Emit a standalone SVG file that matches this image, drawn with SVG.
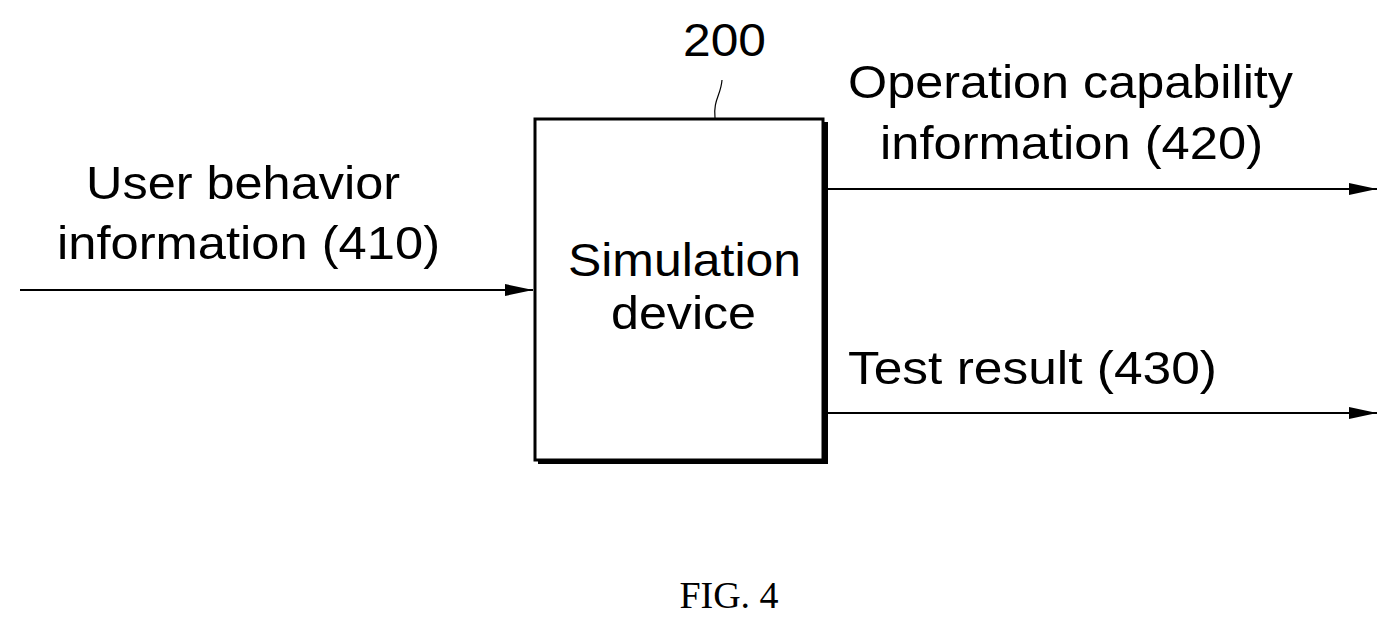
<svg xmlns="http://www.w3.org/2000/svg" width="1399" height="630" viewBox="0 0 1399 630">
<style>
.t{font-family:"Liberation Sans",Arial,sans-serif;font-size:46px;fill:#000}
.c{stroke:#000;stroke-width:2;fill:none}
</style>
<defs><marker id="a" viewBox="0 0 28 12" refX="28" refY="6" markerWidth="28" markerHeight="12" markerUnits="userSpaceOnUse" orient="auto"><path d="M0,0 L28,6 L0,12 Z"/></marker></defs>
<rect width="1399" height="630" fill="#fff"/>
<g id="sim">
<path d="M538,462 H826 V122" stroke="#000" stroke-width="4" fill="none"/>
<rect x="535" y="119" width="288" height="341" fill="#fff" stroke="#000" stroke-width="3"/>
<text class="t" x="568" y="276" textLength="233" lengthAdjust="spacingAndGlyphs">Simulation</text>
<text class="t" x="611" y="329" textLength="145" lengthAdjust="spacingAndGlyphs">device</text>
</g>
<g id="label200">
<text class="t" x="683" y="56" textLength="83" lengthAdjust="spacingAndGlyphs">200</text>
<path d="M715,118 C713,100 721,95 722,80" stroke="#000" stroke-width="1.2" fill="none"/>
</g>
<g id="connectors">
<line class="c" x1="20" y1="290" x2="533" y2="290" marker-end="url(#a)"/>
<line class="c" x1="826" y1="189" x2="1377" y2="189" marker-end="url(#a)"/>
<line class="c" x1="826" y1="413" x2="1377" y2="413" marker-end="url(#a)"/>
</g>
<g id="lbl410"><text class="t" x="86" y="199" textLength="314" lengthAdjust="spacingAndGlyphs">User behavior</text><text class="t" x="57" y="259" textLength="383" lengthAdjust="spacingAndGlyphs">information (410)</text></g>
<g id="lbl420"><text class="t" x="848" y="98" textLength="445" lengthAdjust="spacingAndGlyphs">Operation capability</text><text class="t" x="880" y="159" textLength="383" lengthAdjust="spacingAndGlyphs">information (420)</text></g>
<g id="lbl430"><text class="t" x="848" y="384" textLength="369" lengthAdjust="spacingAndGlyphs">Test result (430)</text></g>
<text x="729" y="608" text-anchor="middle" style="font-family:'Liberation Serif',serif;font-size:38px">FIG. 4</text>
</svg>
